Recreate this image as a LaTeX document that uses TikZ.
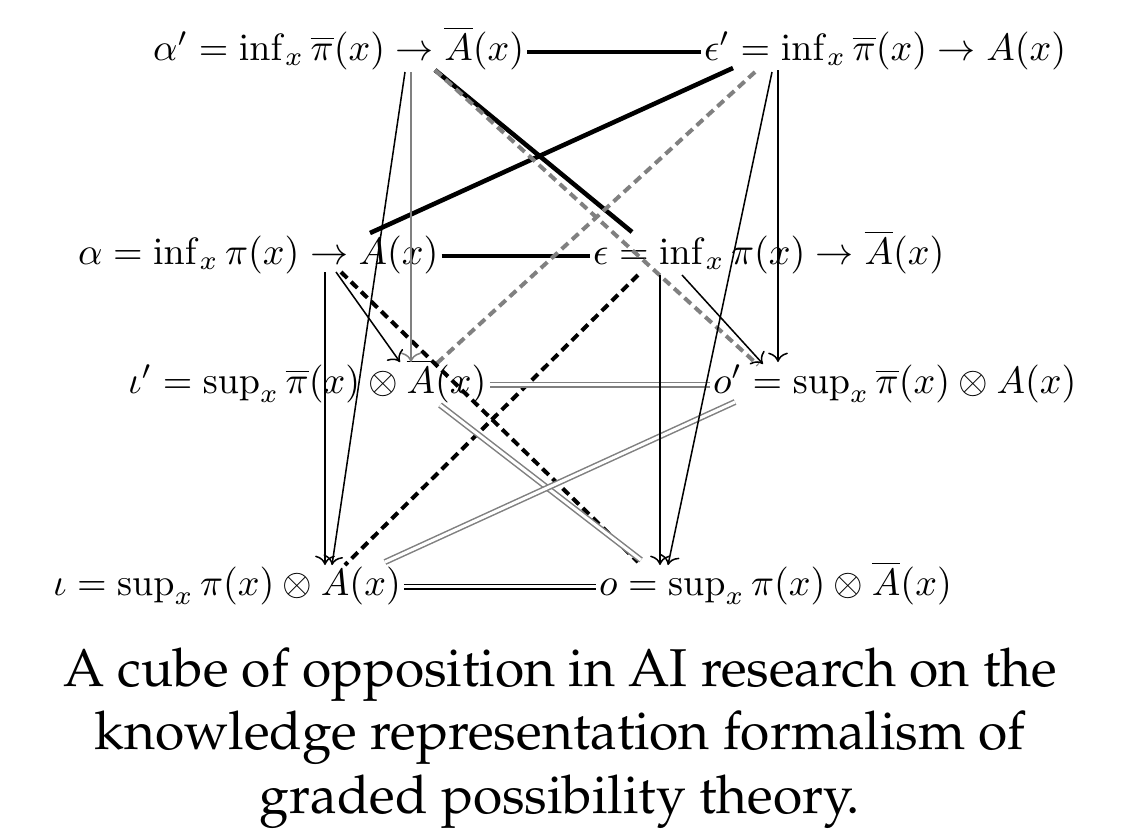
\documentclass[tikz,border=0pt]{standalone}
\usepackage[T1,TU]{fontenc}
\usepackage{amsmath,amssymb}
\usepackage{tikz}
\usetikzlibrary{arrows.meta,calc,positioning}

\begin{document}
\begin{tikzpicture}[x=0.2628pt,y=-0.2628pt,
  eq/.style={inner sep=0.6pt,anchor=base west},
  contr/.style={line width=1.2pt},
  cdash/.style={line width=1.05pt,dash pattern=on 2.3pt off 1.4pt},
  gdash/.style={cdash,gray},
  subalt/.style={->,thin},
  sub/.style={double,thin,double distance=0.8pt},
  gsub/.style={sub,gray}]
\useasboundingbox (0,0) rectangle (1121,828);
% the eight corners
\node[eq] (Ap) at (150,60) {$\alpha' = \inf_x \overline{\pi}(x) \to \overline{A}(x)$};
\node[eq] (Ep) at (701,60) {$\epsilon' = \inf_x \overline{\pi}(x) \to A(x)$};
\node[eq] (A) at (75,264) {$\alpha = \inf_x \pi(x) \to A(x)$};
\node[eq] (E) at (590,264) {$\epsilon = \inf_x \pi(x) \to \overline{A}(x)$};
\node[eq] (Ip) at (125,393) {$\iota' = \sup_x \overline{\pi}(x) \otimes \overline{A}(x)$};
\node[eq] (Op) at (710,393) {$o' = \sup_x \overline{\pi}(x) \otimes A(x)$};
\node[eq] (I) at (50,595) {$\iota = \sup_x \pi(x) \otimes A(x)$};
\node[eq] (O) at (596,595) {$o = \sup_x \pi(x) \otimes \overline{A}(x)$};
% ends of the slanted edges
\coordinate (Ap1) at (405,72);  \coordinate (Ap2) at (411,72);  \coordinate (Ap3) at (435,70);
\coordinate (Ep1) at (733,68);  \coordinate (Ep2) at (755,72);
\coordinate (Ep3) at (772,72);  \coordinate (Ep4) at (778,70);
\coordinate (A1) at (325,272);  \coordinate (A2) at (336,272);  \coordinate (A3) at (341,272);
\coordinate (A4) at (370,233);
\coordinate (E1) at (632,232);  \coordinate (E2) at (638,275);
\coordinate (E3) at (660,275);  \coordinate (E4) at (682,275);
\coordinate (Ip1) at (400,362); \coordinate (Ip2) at (411,362); \coordinate (Ip3) at (435,365);
\coordinate (Ip4) at (440,405);
\coordinate (Op1) at (758,365); \coordinate (Op2) at (763,364); \coordinate (Op3) at (778,362);
\coordinate (Op4) at (735,402);
\coordinate (I1) at (325,565);  \coordinate (I2) at (332,565);  \coordinate (I3) at (345,565);
\coordinate (I4) at (385,562);
\coordinate (O1) at (638,562);  \coordinate (O2) at (641,560);
\coordinate (O3) at (660,565);  \coordinate (O4) at (668,565);
% contraries
\draw[contr] (Ap.mid east) -- (Ep.mid west);
\draw[contr] (A.mid east) -- (E.mid west);
\draw[contr] (Ap3) -- (E1);
\draw[contr] (Ep1) -- (A4);
% contradictories
\draw[gdash] (Ap3) -- (Op1);
\draw[gdash] (Ep2) -- (Ip3);
\draw[cdash] (A3) -- (O1);
\draw[cdash] (E2) -- (I3);
% subcontraries
\draw[gsub] (Ip.mid east) -- (Op.mid west);
\draw[sub] (I.mid east) -- (O.mid west);
\draw[gsub] (Ip4) -- (O2);
\draw[gsub] (Op4) -- (I4);
% subalternations
\draw[subalt,gray] (Ap2) -- (Ip2);
\draw[subalt] (Ap1) -- (I2);
\draw[subalt] (Ep4) -- (Op3);
\draw[subalt] (Ep3) -- (O4);
\draw[subalt] (A1) -- (I1);
\draw[subalt] (A2) -- (Ip1);
\draw[subalt] (E3) -- (O3);
\draw[subalt] (E4) -- (Op2);
% caption
\node[anchor=north,align=center,
  font=\fontencoding{T1}\fontfamily{ppl}\fontsize{14}{16.8}\selectfont] (cap) at (560,634)
  {A cube of opposition in AI research on the\\
   knowledge representation formalism of\\
   graded possibility theory.};
\end{tikzpicture}
\end{document}
